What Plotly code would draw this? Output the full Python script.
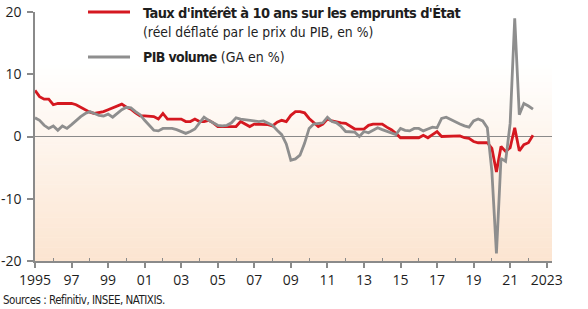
import plotly.graph_objects as go
import pandas as pd

# ---------------- data ----------------
quarters = pd.period_range("1995Q1", "2022Q2", freq="Q")

taux_reel = [
    7.4, 6.4, 6.0, 6.0,    # 1995
    5.1, 5.3, 5.3, 5.3,    # 1996
    5.3, 5.1, 4.7, 4.2,    # 1997
    3.9, 3.7, 3.8, 4.0,    # 1998
    4.3, 4.6, 4.9, 5.2,    # 1999
    4.7, 4.4, 3.8, 3.3,    # 2000
    3.3, 3.2, 3.2, 2.8,    # 2001
    3.7, 2.8, 2.8, 2.8,    # 2002
    2.8, 2.4, 2.4, 2.8,    # 2003
    2.4, 2.4, 2.6, 2.2,    # 2004
    1.6, 1.6, 1.6, 1.6,    # 2005
    1.6, 2.4, 2.0, 1.6,    # 2006
    2.0, 2.0, 2.0, 1.9,    # 2007
    1.7, 2.3, 2.6, 2.4,    # 2008
    3.4, 4.0, 4.0, 3.8,    # 2009
    2.9, 2.2, 1.6, 2.0,    # 2010
    2.8, 2.5, 2.3, 2.2,    # 2011
    2.1, 1.6, 1.2, 1.2,    # 2012
    1.2, 1.8, 2.0, 2.0,    # 2013
    2.0, 1.5, 1.1, 0.5,    # 2014
    -0.2, -0.2, -0.2, -0.2,  # 2015
    -0.2, 0.2, -0.2, 0.3,  # 2016
    0.8, 0.0, 0.0, 0.0,    # 2017
    0.0, 0.1, -0.2, -0.3,  # 2018
    -0.8, -1.0, -1.0, -1.0,  # 2019
    -1.9, -5.7, -1.6, -2.4,  # 2020
    -1.8, 1.4, -2.3, -1.3,   # 2021
    -1.0, 0.2,               # 2022
]

pib_volume = [
    3.0, 2.6, 1.8, 1.3,    # 1995
    1.7, 1.0, 1.7, 1.3,    # 1996
    1.9, 2.6, 3.2, 3.7,    # 1997
    4.0, 3.7, 3.4, 3.3,    # 1998
    3.6, 3.1, 3.7, 4.3,    # 1999
    4.7, 4.6, 4.0, 3.5,    # 2000
    2.6, 1.8, 1.0, 0.9,    # 2001
    1.3, 1.3, 1.3, 1.1,    # 2002
    0.8, 0.5, 0.8, 1.2,    # 2003
    2.2, 3.1, 2.6, 2.2,    # 2004
    1.8, 1.7, 1.8, 2.2,    # 2005
    3.0, 2.8, 2.7, 2.6,    # 2006
    2.6, 2.4, 2.5, 2.1,    # 2007
    1.8, 1.0, 0.3, -1.2,   # 2008
    -3.8, -3.6, -3.0, -1.1,  # 2009
    1.3, 2.0, 2.1, 2.2,    # 2010
    3.1, 2.4, 2.2, 1.6,    # 2011
    0.8, 0.7, 0.7, 0.0,    # 2012
    0.8, 0.6, 1.0, 1.4,    # 2013
    1.1, 0.8, 0.5, 0.3,    # 2014
    1.3, 1.0, 0.9, 1.3,    # 2015
    1.3, 0.9, 1.2, 1.5,    # 2016
    1.4, 2.9, 3.1, 2.7,    # 2017
    2.3, 2.0, 1.7, 1.5,    # 2018
    2.5, 2.8, 2.5, 1.4,    # 2019
    -5.6, -18.8, -3.5, -4.0,  # 2020
    2.1, 19.0, 3.5, 5.3,   # 2021
    4.9, 4.4,              # 2022
]

x_tick_vals = list(range(1995, 2024, 2))
x_tick_text = ["1995", "97", "99", "01", "03", "05", "07", "09",
               "11", "13", "15", "17", "19", "21", "2023"]
x_minor_vals = list(range(1996, 2023, 2))
y_tick_vals = [-20, -10, 0, 10, 20]
y_tick_text = ["-20", "-10", "0", "10", "20"]

BOLD_SPAN = "<span style='letter-spacing:-0.6px'><b>%s</b></span>"
label_taux_1 = BOLD_SPAN % "Taux d'intérêt à 10 ans sur les emprunts d'État"
label_taux_2 = "(réel déflaté par le prix du PIB, en %)"
label_pib = (BOLD_SPAN % "PIB volume") + " (GA en %)"
source_text = "<span style='letter-spacing:-0.5px'>Sources : Refinitiv, INSEE, NATIXIS.</span>"

# ---------------- styles ----------------
RED = "#D51820"
GREY = "#8E8E8E"
AXIS = "#8A8A8A"
TXT = "#1E1E1E"
COND = "Liberation Sans Narrow, DejaVu Sans Condensed, Arial Narrow, sans-serif"
TICKFONT = dict(family="Open Sans, Liberation Sans, sans-serif", size=14, color=TXT)

W, H = 588, 309
ML, MR, MT, MB = 35, 36, 12, 48
PW, PH = W - ML - MR, H - MT - MB


def px(xpix):
    return (xpix - ML) / PW


def py(ypix):
    return (H - MB - ypix) / PH


x = [q.year + (q.quarter - 1) / 4 for q in quarters]

fig = go.Figure()
fig.add_trace(go.Scatter(x=x, y=taux_reel, mode="lines",
                         line=dict(color=RED, width=2.8), showlegend=False,
                         hoverinfo="skip"))
fig.add_trace(go.Scatter(x=x, y=pib_volume, mode="lines",
                         line=dict(color=GREY, width=2.8), showlegend=False,
                         hoverinfo="skip"))

# background gradient (white at top -> light peach at bottom)
shapes = []
N = 60
top_dom = 0.80
c0 = (252, 229, 209)
c1 = (255, 255, 255)
for i in range(N):
    t = i / (N - 1)
    col = tuple(round(c0[k] + (c1[k] - c0[k]) * t) for k in range(3))
    shapes.append(dict(type="rect", xref="x domain", yref="y domain",
                       x0=0, x1=1, y0=top_dom * i / N, y1=top_dom * (i + 1) / N + 0.002,
                       fillcolor="rgb(%d,%d,%d)" % col, line=dict(width=0),
                       layer="below"))

# legend line samples
shapes.append(dict(type="line", xref="paper", yref="paper",
                   x0=px(88), x1=px(130), y0=py(12), y1=py(12),
                   line=dict(color=RED, width=3)))
shapes.append(dict(type="line", xref="paper", yref="paper",
                   x0=px(88), x1=px(130), y0=py(57), y1=py(57),
                   line=dict(color=GREY, width=3)))

annotations = [
    dict(text=label_taux_1, x=px(141), y=py(12.5), xref="paper", yref="paper",
         xanchor="left", yanchor="middle", showarrow=False,
         font=dict(family=COND, size=14.5, color=TXT)),
    dict(text=label_taux_2, x=px(141), y=py(32), xref="paper", yref="paper",
         xanchor="left", yanchor="middle", showarrow=False,
         font=dict(family=COND, size=13.8, color=TXT)),
    dict(text=label_pib, x=px(141), y=py(57), xref="paper", yref="paper",
         xanchor="left", yanchor="middle", showarrow=False,
         font=dict(family=COND, size=14, color=TXT)),
    dict(text=source_text, x=px(1), y=py(300), xref="paper", yref="paper",
         xanchor="left", yanchor="middle", showarrow=False,
         font=dict(family=COND, size=11.5, color=TXT)),
]

fig.update_layout(
    width=W, height=H,
    margin=dict(l=ML, r=MR, t=MT, b=MB, pad=0, autoexpand=False),
    paper_bgcolor="white", plot_bgcolor="white",
    shapes=shapes, annotations=annotations,
    showlegend=False,
    xaxis=dict(range=[1995, 1995 + PW / 18.275], showgrid=False, zeroline=False,
               automargin=False,
               showline=True, linecolor=AXIS, linewidth=1.5,
               tickmode="array", tickvals=x_tick_vals, ticktext=x_tick_text,
               ticks="outside", ticklen=5, tickwidth=1.5, tickcolor=AXIS,
               tickfont=TICKFONT,
               minor=dict(tickmode="array", tickvals=x_minor_vals, ticks="inside",
                          ticklen=3, tickwidth=1.2, tickcolor=AXIS, showgrid=False)),
    yaxis=dict(range=[-20, 20], showgrid=False, zeroline=True, automargin=False,
               zerolinecolor=AXIS, zerolinewidth=1.3,
               showline=True, linecolor=AXIS, linewidth=1.5,
               tickmode="array", tickvals=y_tick_vals, ticktext=y_tick_text,
               ticks="outside", ticklen=6, tickwidth=1.5, tickcolor=AXIS,
               ticklabelstandoff=3,
               tickfont=TICKFONT),
    yaxis2=dict(range=[-20, 20], overlaying="y", side="right", anchor="x",
                showgrid=False, zeroline=False, automargin=False,
                showline=True, linecolor=AXIS, linewidth=1.5,
                tickmode="array", tickvals=y_tick_vals, ticktext=y_tick_text,
                ticks="outside", ticklen=6, tickwidth=1.5, tickcolor=AXIS,
                ticklabelstandoff=3,
                tickfont=TICKFONT),
)

fig.write_html("out.html")
